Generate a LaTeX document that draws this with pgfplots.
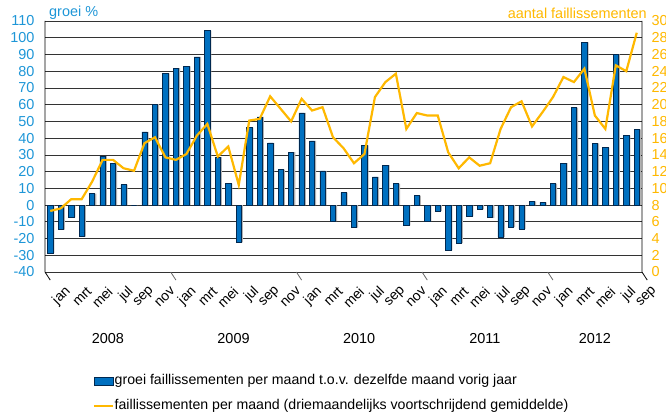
\documentclass[border=0pt]{standalone}
\usepackage{pgfplots}
\pgfplotsset{compat=1.18}
\usepackage{pgfplotstable}
\usepackage{fontspec}
\setmainfont{Liberation Sans}
\definecolor{barblue}{RGB}{0,112,192}
\definecolor{bardark}{RGB}{0,40,80}
\definecolor{axblue}{RGB}{30,150,215}
\definecolor{gold}{RGB}{255,184,0}

\pgfplotstableread{
idx groei aantal
0 -28.7 7.3
1 -14.7 7.6
2 -7.4 8.7
3 -18.9 8.7
4 6.8 10.8
5 29.2 13.4
6 24.8 13.4
7 12.2 12.4
8 0 12.1
9 43.7 15.4
10 60.3 16.1
11 78.7 13.7
12 81.9 13.4
13 82.9 14.1
14 88.6 16.3
15 104.2 17.7
16 28.7 13.8
17 12.8 15.0
18 -22.3 10.4
19 46.3 18.1
20 52.7 18.3
21 37.1 21.0
22 21.2 19.5
23 31.7 18.0
24 55.1 20.7
25 38.3 19.3
26 20.4 19.7
27 -9.6 16.1
28 7.4 14.8
29 -13.5 13.0
30 35.7 14.1
31 16.8 20.9
32 23.8 22.7
33 12.8 23.7
34 -12.2 17.1
35 5.7 19.0
36 -9.6 18.7
37 -3.6 18.7
38 -27.1 14.3
39 -22.7 12.4
40 -6.8 13.7
41 -2.6 12.7
42 -7.6 13.0
43 -19.2 17.1
44 -13.2 19.7
45 -14.2 20.4
46 2.2 17.4
47 1.6 19.1
48 12.8 20.9
49 25.1 23.3
50 58.3 22.7
51 97.2 24.3
52 36.8 18.7
53 34.4 17.1
54 90.0 24.7
55 41.5 24.0
56 45.3 28.6
}\data

\begin{document}
\begin{tikzpicture}
\useasboundingbox (-45bp,-146bp) rectangle (621bp,272bp);
\begin{axis}[
  at={(0,0)}, anchor=south west,
  scale only axis, width=597bp, height=251bp,
  xmin=-0.5, xmax=56.5, ymin=-40, ymax=110,
  ytick={-40,-30,...,110},
  xtick={0,2,...,56},
  xticklabels={jan,mrt,mei,jul,sep,nov,jan,mrt,mei,jul,sep,nov,jan,mrt,mei,jul,sep,nov,jan,mrt,mei,jul,sep,nov,jan,mrt,mei,jul,sep},
  major tick length=0pt,
  axis line style={draw=none},
  ymajorgrids, grid style={black!80, line width=0.7bp},
  /pgf/number format/assume math mode=true,
  yticklabel style={text=axblue, font=\fontsize{14.5}{17}\selectfont, xshift=-7bp},
  xticklabel style={rotate=45, anchor=east, font=\fontsize{14}{16}\selectfont, xshift=4bp, yshift=-25bp},
  clip=false,
]
\addplot[ybar, bar width=5.3bp, fill=black!30, draw=none, bar shift=1.5bp, forget plot] table[x=idx,y=groei]{\data};
\addplot[ybar, bar width=5.3bp, fill=barblue, draw=bardark, line width=0.6bp] table[x=idx,y=groei]{\data};
\draw[black, line width=0.8bp] (axis cs:-0.5,110) -- (axis cs:-0.5,-40) -- ++(0,-75bp);
\draw[black, line width=0.8bp] (axis cs:56.5,110) -- (axis cs:56.5,-40) -- ++(0,-75bp);
\draw[black!60, line width=0.8bp] (axis cs:11.5,-40) -- ++(0,-75bp);
\draw[black!60, line width=0.8bp] (axis cs:23.5,-40) -- ++(0,-75bp);
\draw[black!60, line width=0.8bp] (axis cs:35.5,-40) -- ++(0,-75bp);
\draw[black!60, line width=0.8bp] (axis cs:47.5,-40) -- ++(0,-75bp);
\node[font=\fontsize{14.5}{17}\selectfont] at (axis cs:5.5,-40) [yshift=-67bp] {2008};
\node[font=\fontsize{14.5}{17}\selectfont] at (axis cs:17.5,-40) [yshift=-67bp] {2009};
\node[font=\fontsize{14.5}{17}\selectfont] at (axis cs:29.5,-40) [yshift=-67bp] {2010};
\node[font=\fontsize{14.5}{17}\selectfont] at (axis cs:41.5,-40) [yshift=-67bp] {2011};
\node[font=\fontsize{14.5}{17}\selectfont] at (axis cs:52,-40) [yshift=-67bp] {2012};
\node[anchor=west, inner sep=0pt, text=axblue, font=\fontsize{14.5}{17}\selectfont] at (rel axis cs:0,1) [xshift=4bp, yshift=8bp] {groei \%};
\node[anchor=east, inner sep=0pt, text=gold, font=\fontsize{14.5}{17}\selectfont] at (rel axis cs:1,1) [xshift=5bp, yshift=8bp] {aantal faillissementen};
\end{axis}
\begin{axis}[
  at={(0,0)}, anchor=south west,
  scale only axis, width=597bp, height=251bp,
  xmin=-0.5, xmax=56.5, ymin=0, ymax=30,
  ytick={0,2,...,30}, xtick=\empty,
  axis y line*=right, axis x line=none,
  major tick length=0pt,
  axis line style={draw=none},
  /pgf/number format/assume math mode=true,
  yticklabel style={text=gold, font=\fontsize{14.5}{17}\selectfont, anchor=west, xshift=6bp},
  clip=false,
  legend style={at={(axis description cs:0.0804,-0.402)}, anchor=north west, draw=none, fill=none, inner sep=0pt,
    font=\fontsize{14.2}{16}\selectfont, row sep=9.5bp,
    nodes={text height=10.5bp, text depth=3bp, inner sep=1bp},
    /tikz/every even column/.append style={column sep=3bp}},
  legend cell align=left,
]
\addlegendimage{legend image code/.code={\draw[fill=barblue,draw=bardark,line width=0.6bp] (0bp,-4bp) rectangle (19bp,4bp);}}
\addlegendentry{groei faillissementen per maand t.o.v. dezelfde maand vorig jaar}
\addplot[gold, line width=2.2bp, legend image code/.code={\draw[gold,line width=1.5bp] (0bp,0bp) -- (19bp,0bp);}] table[x=idx,y=aantal]{\data};
\addlegendentry{faillissementen per maand (driemaandelijks voortschrijdend gemiddelde)}
\end{axis}
\end{tikzpicture}
\end{document}
